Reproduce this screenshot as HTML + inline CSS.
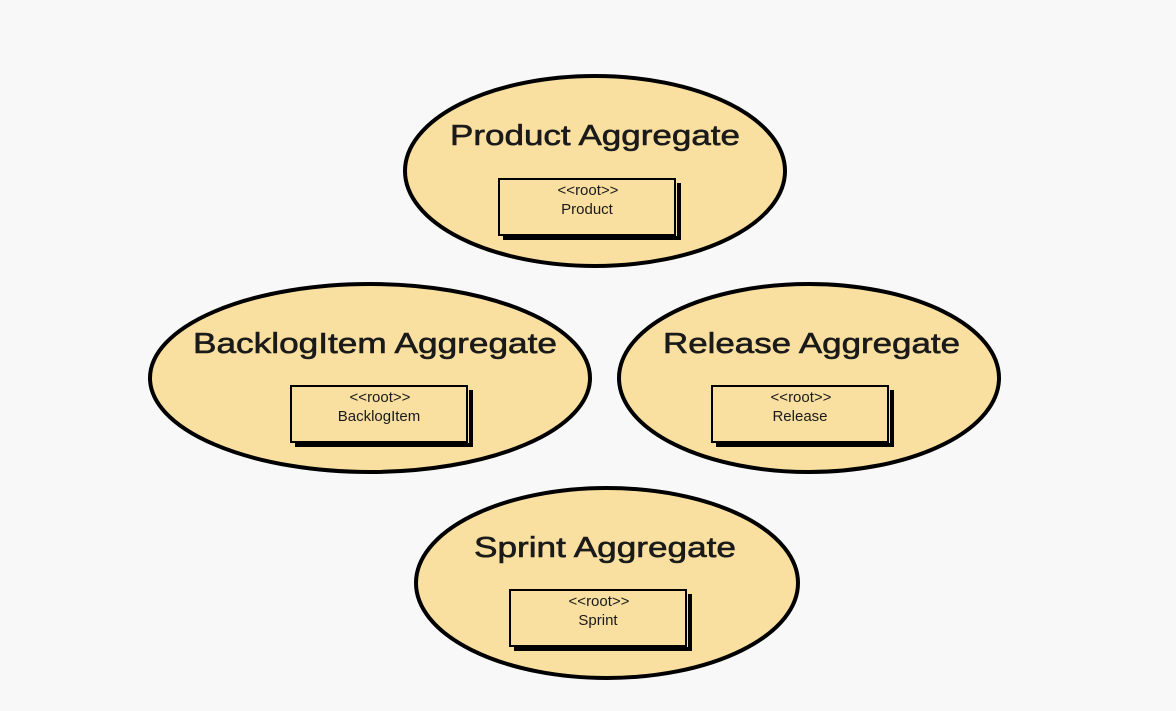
<!DOCTYPE html>
<html><head><meta charset="utf-8"><style>
html,body{margin:0;padding:0;background:#f8f8f8;}
svg{display:block;}
text{font-family:"Liberation Sans",sans-serif;fill:#1a1a1a;}
</style></head><body>
<svg width="1176" height="711" viewBox="0 0 1176 711" xmlns="http://www.w3.org/2000/svg">
<rect width="1176" height="711" fill="#f8f8f8"/>
<g fill="#f9e0a0" stroke="#000" stroke-width="4">
<ellipse cx="595" cy="171" rx="190" ry="95"/>
<ellipse cx="370" cy="378" rx="220" ry="94"/>
<ellipse cx="809" cy="378" rx="190" ry="94"/>
<ellipse cx="607" cy="583" rx="191" ry="95"/>
</g>
<g font-size="29" stroke="#1a1a1a" stroke-width="0.6">
<text x="450" y="145" textLength="290" lengthAdjust="spacingAndGlyphs">Product Aggregate</text>
<text x="193" y="353" textLength="364" lengthAdjust="spacingAndGlyphs">BacklogItem Aggregate</text>
<text x="663" y="353" textLength="297" lengthAdjust="spacingAndGlyphs">Release Aggregate</text>
<text x="474" y="557" textLength="262" lengthAdjust="spacingAndGlyphs">Sprint Aggregate</text>
</g>
<g fill="none" stroke="#000">
<path d="M503 238 H679 V183" stroke-width="4"/>
<rect x="499" y="179" width="176" height="56" stroke-width="2"/>
<path d="M295 445 H471 V390" stroke-width="4"/>
<rect x="291" y="386" width="176" height="56" stroke-width="2"/>
<path d="M716 445 H892 V390" stroke-width="4"/>
<rect x="712" y="386" width="176" height="56" stroke-width="2"/>
<path d="M514 649 H690 V594" stroke-width="4"/>
<rect x="510" y="590" width="176" height="56" stroke-width="2"/>
</g>
<g font-size="15" text-anchor="middle">
<text x="588" y="195">&lt;&lt;root&gt;&gt;</text><text x="587" y="214">Product</text>
<text x="380" y="402">&lt;&lt;root&gt;&gt;</text><text x="379" y="421">BacklogItem</text>
<text x="801" y="402">&lt;&lt;root&gt;&gt;</text><text x="800" y="421">Release</text>
<text x="599" y="606">&lt;&lt;root&gt;&gt;</text><text x="598" y="625">Sprint</text>
</g>
</svg>
</body></html>
